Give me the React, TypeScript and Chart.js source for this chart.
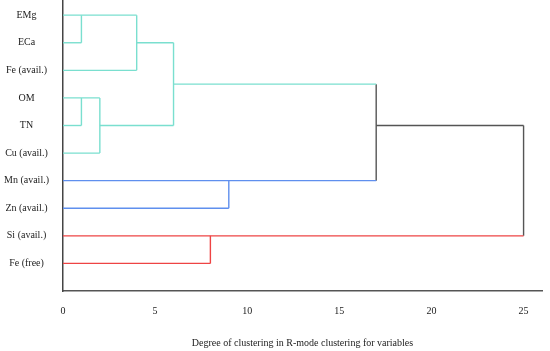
import React, { useEffect, useRef } from "react";
import { Chart, registerables } from "chart.js";

Chart.register(...registerables);

const variables = [
  "EMg",
  "ECa",
  "Fe (avail.)",
  "OM",
  "TN",
  "Cu (avail.)",
  "Mn (avail.)",
  "Zn (avail.)",
  "Si (avail.)",
  "Fe (free)",
];

const distanceTicks = [0, 5, 10, 15, 20, 25];

// links: [distanceFrom, rowFrom, distanceTo, rowTo]
const cyanLinks = [
  [0, 0, 4, 0],
  [0, 1, 1, 1],
  [1, 0, 1, 1],
  [0, 2, 4, 2],
  [4, 0, 4, 2],
  [4, 1, 6, 1],
  [0, 3, 2, 3],
  [0, 4, 1, 4],
  [1, 3, 1, 4],
  [0, 5, 2, 5],
  [2, 3, 2, 5],
  [2, 4, 6, 4],
  [6, 1, 6, 4],
  [6, 2.5, 17, 2.5],
];
const blueLinks = [
  [0, 6, 17, 6],
  [0, 7, 9, 7],
  [9, 6, 9, 7],
];
const redLinks = [
  [0, 8, 25, 8],
  [0, 9, 8, 9],
  [8, 8, 8, 9],
];
const blackLinks = [
  [17, 2.5, 17, 6],
  [17, 4, 25, 4],
  [25, 4, 25, 8],
];

const groups = [
  { links: cyanLinks, color: "#7adfcf" },
  { links: blueLinks, color: "#5f8fee" },
  { links: redLinks, color: "#ee4444" },
  { links: blackLinks, color: "#555555" },
];

const FONT = "'Liberation Serif', 'Times New Roman', serif";

export default function App() {
  const ref = useRef<HTMLCanvasElement | null>(null);

  useEffect(() => {
    if (!ref.current) return;
    const datasets: any[] = [];
    groups.forEach((g) => {
      g.links.forEach((l) => {
        datasets.push({
          data: [
            { x: l[0], y: l[1] },
            { x: l[2], y: l[3] },
          ],
          showLine: true,
          borderColor: g.color,
          borderWidth: 1.4,
          pointRadius: 0,
          fill: false,
        });
      });
    });

    const chart = new Chart(ref.current, {
      type: "scatter",
      data: { datasets },
      options: {
        animation: false,
        responsive: false,
        layout: { padding: { top: 0, right: 8, bottom: 0, left: 0 } },
        plugins: {
          legend: { display: false },
          tooltip: { enabled: false },
        },
        scales: {
          x: {
            type: "linear",
            min: 0,
            max: 26,
            grid: { display: false, drawTicks: false },
            border: { display: true, color: "#555555", width: 1.5 },
            afterBuildTicks: (scale: any) => {
              scale.ticks = distanceTicks.map((v) => ({ value: v }));
            },
            afterFit: (scale: any) => {
              scale.height = 60;
              scale.paddingLeft = 0;
              scale.paddingRight = 0;
            },
            ticks: {
              autoSkip: false,
              maxRotation: 0,
              padding: 14,
              color: "#222",
              font: { family: FONT, size: 10 },
            },
            title: {
              display: true,
              text: "Degree of clustering in R-mode clustering for variables",
              color: "#222",
              font: { family: FONT, size: 10 },
              padding: { top: 0, bottom: 2 },
            },
          },
          y: {
            type: "linear",
            reverse: true,
            min: -0.55,
            max: 10,
            grid: { display: false, drawTicks: false },
            border: { display: true, color: "#444444", width: 1.5 },
            afterBuildTicks: (scale: any) => {
              scale.ticks = variables.map((_, i) => ({ value: i }));
            },
            afterFit: (scale: any) => {
              scale.width = 63;
              scale.paddingTop = 0;
              scale.paddingBottom = 0;
            },
            ticks: {
              autoSkip: false,
              crossAlign: "center",
              padding: 14,
              color: "#222",
              font: { family: FONT, size: 10 },
              callback: (v: any) => variables[v as number] ?? "",
            },
          },
        },
      },
    });
    return () => chart.destroy();
  }, []);

  return (
    <div style={{ position: "absolute", left: 0, top: 0, width: 550, height: 351, background: "#fff" }}>
      <canvas ref={ref} width={550} height={351} />
    </div>
  );
}
